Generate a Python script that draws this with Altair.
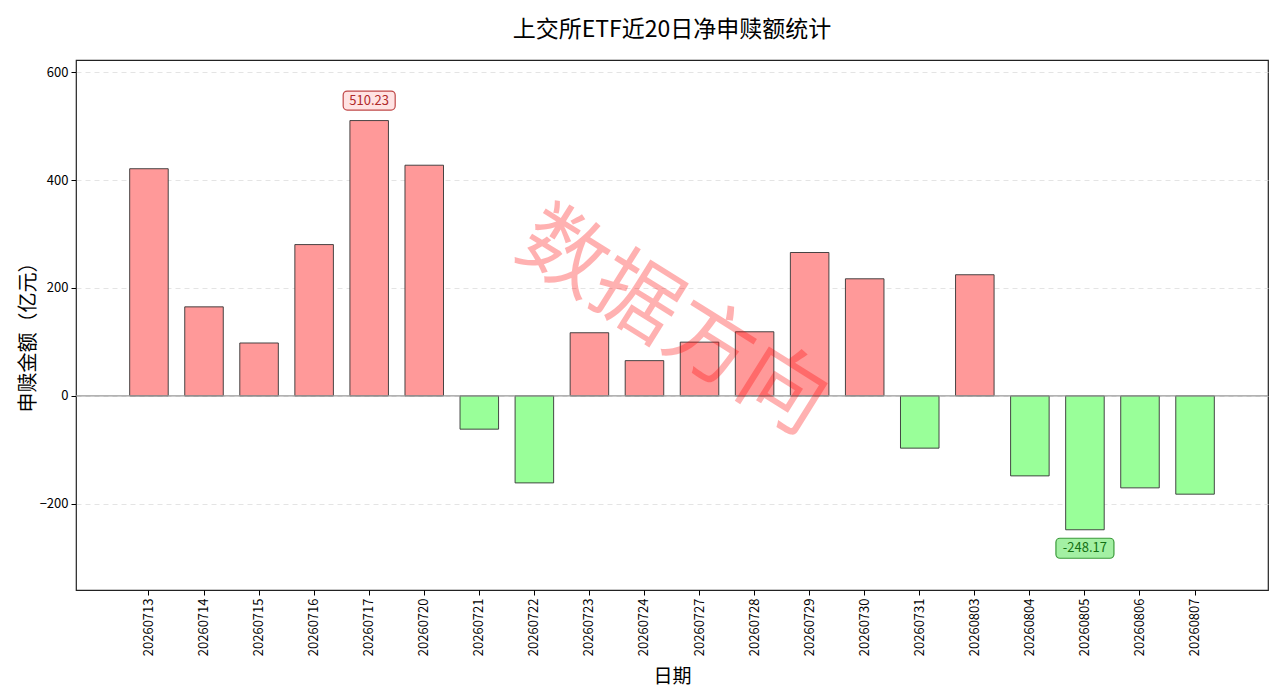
import altair as alt
import pandas as pd

# ---- data ----
dates = ["20260713", "20260714", "20260715", "20260716", "20260717", "20260720",
         "20260721", "20260722", "20260723", "20260724", "20260727", "20260728",
         "20260729", "20260730", "20260731", "20260803", "20260804", "20260805",
         "20260806", "20260807"]
values = [421.0, 165.0, 98.0, 280.4, 510.23, 427.5,
          -61.7, -161.3, 117.0, 65.3, 99.6, 118.8,
          265.7, 217.0, -96.9, 224.5, -148.3, -248.17,
          -170.5, -182.2]
y_ticks = [-200, 0, 200, 400, 600]
y_domain = [-359.8, 622.5]

title_text = "上交所ETF近20日净申赎额统计"
x_title = "日期"
y_title = "申赎金额（亿元）"
watermark = "数据方向"

FONT = "Noto Sans CJK SC"
W, H = 1192, 530

df = pd.DataFrame({"date": dates, "value": values})
df["sign"] = ["pos" if v >= 0 else "neg" for v in values]

imax = values.index(max(values))
imin = values.index(min(values))
df_max = pd.DataFrame({"date": [dates[imax]], "value": [values[imax]],
                       "label": [f"{values[imax]:.2f}"]})
df_min = pd.DataFrame({"date": [dates[imin]], "value": [values[imin]],
                       "label": [f"{values[imin]:.2f}"]})

x_enc = alt.X(
    "date:N", sort=dates,
    scale=alt.Scale(paddingInner=0.3, paddingOuter=0.975),
    axis=alt.Axis(
        title=x_title, labelAngle=270, labelFont=FONT, labelFontSize=13,
        labelColor="#000", tickColor="#000", tickSize=5, domain=False,
        titleFont=FONT, titleFontSize=19, titleFontWeight="normal",
        titleColor="#000", titleY=86, titleBaseline="middle", labelPadding=3,
    ),
)
y_enc = alt.Y(
    "value:Q",
    scale=alt.Scale(domain=y_domain, nice=False, zero=False),
    axis=alt.Axis(
        title=y_title, values=y_ticks, labelFont=FONT, labelFontSize=13,
        labelColor="#000", tickColor="#000", tickSize=5, domain=False,
        grid=True, gridColor="#dddddd", gridDash=[5, 4], gridWidth=0.8,
        titleFont=FONT, titleFontSize=20, titleFontWeight="normal",
        titleColor="#000", titleAngle=270, titleX=-48, titleY=272,
        titleAlign="center", titleBaseline="middle", labelPadding=3,
    ),
)

bars = alt.Chart(df).mark_bar(stroke="#333333", strokeWidth=0.9).encode(
    x=x_enc,
    y=y_enc,
    y2=alt.datum(0),
    color=alt.Color("sign:N", scale=alt.Scale(domain=["pos", "neg"],
                                              range=["#FF9999", "#99FF99"]),
                    legend=None),
)

zero_line = alt.Chart(pd.DataFrame({"z": [0]})).mark_rule(
    color="#999999", strokeWidth=1.2
).encode(y=alt.Y("z:Q"))

box_max = alt.Chart(df_max).mark_bar(
    width=52, cornerRadius=4, fill="#ffe3e3", stroke="#c04848", strokeWidth=1.2,
    yOffset=-29.5, y2Offset=-10.5,
).encode(x=alt.X("date:N", sort=dates), y="value:Q", y2="value:Q")
txt_max = alt.Chart(df_max).mark_text(
    font=FONT, fontSize=13, color="#b02a2a", dy=-20, baseline="middle",
).encode(x=alt.X("date:N", sort=dates), y="value:Q", text="label:N")

box_min = alt.Chart(df_min).mark_bar(
    width=58, cornerRadius=4, fill="#a3f0a3", stroke="#3a9a3a", strokeWidth=1.2,
    yOffset=8.5, y2Offset=28.5,
).encode(x=alt.X("date:N", sort=dates), y="value:Q", y2="value:Q")
txt_min = alt.Chart(df_min).mark_text(
    font=FONT, fontSize=13, color="#137013", dy=18.5, baseline="middle",
).encode(x=alt.X("date:N", sort=dates), y="value:Q", text="label:N")

wm = alt.Chart(pd.DataFrame({"t": [watermark]})).mark_text(
    font=FONT, fontSize=86, color="red", opacity=0.3, angle=32,
    align="center", baseline="middle",
).encode(x=alt.value(W / 2), y=alt.value(H / 2 - 2), text="t:N")

chart = alt.layer(bars, zero_line, box_max, txt_max, box_min, txt_min, wm).properties(
    width=W, height=H,
    background="white",
    title=alt.TitleParams(title_text, font=FONT, fontSize=23, fontWeight="normal",
                          color="#000", anchor="middle", offset=18),
    autosize=alt.AutoSizeParams(type="none"),
    padding={"left": 68, "top": 52, "right": 4, "bottom": 100},
).configure_view(stroke="#222222", strokeWidth=1.2)

chart.save("out.html", embed_options={"renderer": "svg", "actions": False})
